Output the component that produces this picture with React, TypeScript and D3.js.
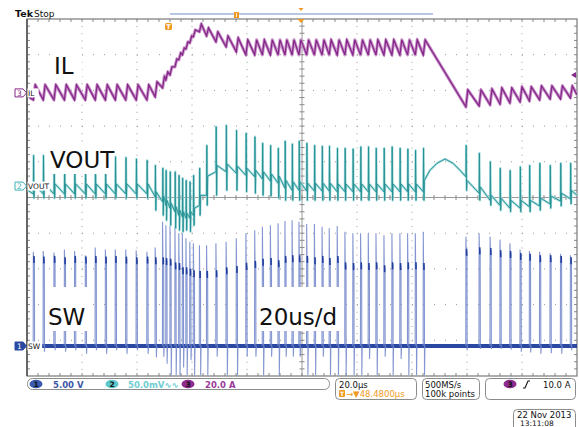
import * as d3 from 'd3';

const W = 579;
const H = 427;

// ---- values ----
// switching edges, µs from the left edge of the screen (20 µs/div, 10 div)
const pulseTimes = [
  2.3, 5.9, 9.8, 13.6, 17.3, 21.2, 24.8, 28.5, 32.1, 35.9, 39.7, 43.6,
  46.6, 49.3, 50.5, 52.0, 53.8, 55.2, 56.5, 57.8, 59.2, 60.5, 62.7, 65.3,
  68.7, 72.4, 76.1, 79.6, 82.8, 85.6, 88.5, 91.3, 93.8, 96.4, 98.9, 101.7,
  104.5, 107.3, 109.9, 112.8, 115.6, 118.5, 121.3, 124.1, 126.9, 129.8, 132.7, 135.6,
  138.4, 141.2, 144.1,
  159.6, 164.4, 168.4, 172.0, 175.6, 179.3, 182.7, 186.4, 190.2, 194.0, 197.6,
];

// ch3 IL (A): valley at each edge, peak at end of on-time
const ilTrough = [
  -3.9, -3.9, -3.9, -3.9, -3.9, -3.9, -3.9, -3.9, -3.9, -3.9, -3.9, -3.9,
  -2.2, 2.8, 7.3, 10.1, 14.6, 18.5, 21.3, 24.6, 28.0, 31.4, 34.2, 31.9,
  28.6, 25.8, 23.0, 21.3, 21.3, 21.3, 21.3, 21.3, 21.3, 21.3, 21.3, 21.3,
  21.3, 21.3, 21.3, 21.3, 21.3, 21.3, 21.3, 21.3, 21.3, 21.3, 21.3, 21.3,
  21.3, 21.3, 21.3,
  -7.8, -7.3, -6.7, -6.2, -5.6, -5.0, -4.5, -3.9, -3.4, -3.4, -2.8,
];
const ilPeak = [
  4.5, 4.5, 4.5, 4.5, 4.5, 4.5, 4.5, 4.5, 4.5, 4.5, 4.5, 4.5,
  6.2, 9.5, 11.8, 14.6, 19.0, 22.4, 25.2, 28.6, 31.9, 35.3, 38.6, 36.4,
  34.2, 31.9, 30.8, 29.7, 29.7, 29.7, 29.7, 29.7, 29.7, 29.7, 29.7, 29.7,
  29.7, 29.7, 29.7, 29.7, 29.7, 29.7, 29.7, 29.7, 29.7, 29.7, 29.7, 29.7,
  29.7, 29.7, 29.7,
  1.7, 1.7, 2.2, 2.8, 2.8, 3.4, 3.4, 3.9, 3.9, 3.9, 3.9,
];
const ilStart: [number, number] = [0.9, -2.5];
const ilEnd: [number, number] = [200, -1.1];

// ch2 VOUT (mV, AC coupled): level before edge, spike top, spike bottom, level after edge
const voutLow = [
  -11, -11, -11, -11, -11, -11, -11, -11, -11, -11, -11, -11,
  -15, -22, -27, -31, -36, -41, -43, -45, -45, -41, -27, -13,
  20, 20, 18, 15, 13, 10, 7, 4, -3, -6, -6, -7,
  -7, -7, -7, -8, -8, -8, -8, -8, -8, -8, -8, -8,
  -8, -8, -8,
  13, -10, -20, -27, -31, -31, -29, -28, -25, -21, -18,
];
const voutSpike = [
  43, 43, 43, 43, 43, 42, 42, 41, 41, 40, 38, 36,
  29, 25, 22, 20, 20, 15, 11, 8, 6, 15, 25, 57,
  83, 85, 78, 74, 69, 60, 57, 53, 63, 59, 63, 60,
  57, 56, 56, 53, 53, 52, 55, 55, 53, 53, 55, 53,
  52, 50, 53,
  57, 46, 34, 25, 22, 27, 29, 32, 29, 32, 32,
];
const voutDip = [
  -17, -17, -17, -17, -17, -17, -17, -17, -17, -17, -17, -17,
  -34, -41, -48, -55, -59, -62, -64, -62, -64, -55, -41, -27,
  -13, -6, -6, -8, -10, -13, -14, -17, -20, -20, -20, -20,
  -20, -20, -20, -20, -20, -20, -20, -20, -20, -20, -20, -20,
  -20, -20, -20,
  -6, -20, -27, -34, -36, -36, -36, -34, -31, -28, -25,
];
const voutHigh = [
  3, 3, 3, 3, 3, 3, 3, 3, 3, 3, 3, 3,
  -8, -14, -20, -24, -29, -34, -36, -38, -36, -31, -13, 14,
  29, 31, 28, 25, 22, 20, 17, 14, 8, 6, 6, 4,
  4, 4, 4, 3, 3, 3, 3, 3, 3, 3, 3, 3,
  3, 3, 8,
  8, -1, -13, -17, -20, -20, -20, -17, -14, -10, -6,
];
// hump while the converter skips pulses
const voutGapT = [146.5, 149.1, 152.0, 154.9, 157.5];
const voutGapV = [22, 32, 38, 32, 22];
const voutStart: [number, number] = [0.3, -6];
const voutEnd: [number, number] = [200, -13];

// ch1 SW (V): overshoot, flat top, undershoot
const swPeak = [
  13.2, 13.3, 13.1, 13.5, 13.3, 12.7, 13.8, 13.5, 13.5, 13.5, 13.4, 13.2,
  13.8, 17.4, 16.9, 16.8, 16.7, 15.8, 15.8, 15.1, 14.6, 14.4, 14.1, 14.1,
  14.4, 14.6, 15.1, 15.8, 16.2, 16.7, 16.9, 17.2, 17.5, 17.6, 17.4, 17.1,
  17.1, 16.7, 16.5, 16.8, 16.0, 15.8, 15.8, 15.8, 15.8, 15.5, 15.8, 15.8,
  15.8, 15.8, 16.0,
  15.3, 15.8, 15.3, 14.9, 14.4, 13.5, 13.3, 13.2, 13.0, 12.9, 12.7,
];
const swPlateau = [
  12.2, 12.1, 12.2, 12.0, 12.2, 12.1, 12.2, 12.1, 12.2, 12.1, 12.0, 12.1,
  12.0, 12.0, 11.9, 11.8, 11.3, 11.2, 10.6, 10.6, 10.4, 10.2, 10.1, 10.1,
  10.2, 10.6, 10.8, 11.2, 11.5, 11.8, 11.9, 11.6, 12.2, 12.3, 12.3, 12.2,
  12.0, 12.2, 11.9, 12.2, 11.3, 11.2, 11.3, 11.2, 11.3, 10.9, 11.3, 11.2,
  11.3, 11.3, 11.2,
  13.2, 13.4, 13.3, 13.0, 12.9, 12.6, 12.5, 12.3, 12.3, 12.2, 12.0,
];
const swUnder = [
  -0.6, -0.8, -0.6, -0.8, -0.6, -1.1, -0.6, -1.1, -0.6, -1.1, -0.6, -1.1,
  -1.6, -1.5, -2.5, -4.1, -4.1, -4.1, -3.0, -4.1, -2.0, -4.1, -4.1, -4.1,
  -1.5, -4.1, -4.1, -1.5, -1.5, -4.1, -1.5, -4.1, -1.5, -1.5, -1.5, -4.1,
  -4.1, -1.5, -4.1, -4.1, -4.1, -4.1, -4.1, -1.8, -4.1, -1.5, -4.1, -1.8,
  -4.1, -4.1, -4.1,
  -0.6, -0.4, -0.4, -0.4, -0.5, -0.8, -0.9, -1.1, -1.0, -1.1, -0.6,
];

// ---- screen geometry ----
const LEFT = 27, RIGHT = 577, TOP = 19, BOTTOM = 376;
const xs = d3.scaleLinear().domain([0, 200]).range([LEFT, RIGHT]);
const yDiv = d3.scaleLinear().domain([0, 10]).range([BOTTOM, TOP]);

// ground markers (div from bottom) and scale per div
const CH3_POS = 7.93, CH3_SCALE = 20;
const CH2_POS = 5.32, CH2_SCALE = 50;
const CH1_POS = 0.84, CH1_SCALE = 5;
const yIL = (v: number) => yDiv(CH3_POS + v / CH3_SCALE);
const yVO = (v: number) => yDiv(CH2_POS + v / CH2_SCALE);
const ySW = (v: number) => yDiv(CH1_POS + v / CH1_SCALE);

const FONT = 'DejaVu Sans, sans-serif';
const PURPLE = '#86288a';
const TEAL = '#238f92';
const BLUE = '#2a48a2';
const ORANGE = '#f09a22';

function Graticule() {
  const divW = (RIGHT - LEFT) / 10;
  const divH = (BOTTOM - TOP) / 10;
  const items: JSX.Element[] = [];
  for (let i = 1; i < 10; i++) {
    if (i === 5) continue;
    const gx = LEFT + i * divW;
    const gy = TOP + i * divH;
    items.push(<line key={'v' + i} x1={gx} x2={gx} y1={TOP} y2={BOTTOM} stroke="#9a9a9a" strokeDasharray={`1 ${divH / 5 - 1}`} />);
    items.push(<line key={'h' + i} x1={LEFT} x2={RIGHT} y1={gy} y2={gy} stroke="#9a9a9a" strokeDasharray={`1 ${divW / 5 - 1}`} />);
  }
  const cx = LEFT + 5 * divW;
  const cy = TOP + 5 * divH;
  const ticks: JSX.Element[] = [];
  for (let k = 1; k < 50; k++) {
    const tx = LEFT + (k * divW) / 5;
    const ty = TOP + (k * divH) / 5;
    ticks.push(<line key={'ct' + k} x1={tx} x2={tx} y1={cy - 2.5} y2={cy + 2.5} />);
    ticks.push(<line key={'cl' + k} x1={cx - 2.5} x2={cx + 2.5} y1={ty} y2={ty} />);
    ticks.push(<line key={'tt' + k} x1={tx} x2={tx} y1={TOP} y2={TOP + 3} />);
    ticks.push(<line key={'bt' + k} x1={tx} x2={tx} y1={BOTTOM} y2={BOTTOM - 3} />);
    ticks.push(<line key={'lt' + k} x1={LEFT} x2={LEFT + 3} y1={ty} y2={ty} />);
    ticks.push(<line key={'rt' + k} x1={RIGHT} x2={RIGHT - 3} y1={ty} y2={ty} />);
  }
  return (
    <g>
      {items}
      <line x1={cx} x2={cx} y1={TOP} y2={BOTTOM} stroke="#9a9a9a" />
      <line x1={LEFT} x2={RIGHT} y1={cy} y2={cy} stroke="#9a9a9a" />
      <g stroke="#8a8a8a">{ticks}</g>
      <rect x={LEFT} y={TOP} width={RIGHT - LEFT} height={BOTTOM - TOP} fill="none" stroke="#7a7a7a" strokeWidth={1.2} />
      <line x1={LEFT} x2={LEFT} y1={TOP} y2={BOTTOM} stroke="#555" strokeWidth={1.6} />
    </g>
  );
}

function ChannelTag({ y, n, color, filled, label }: { y: number; n: string; color: string; filled?: boolean; label: string }) {
  const pts = `15,${y - 4} 23,${y - 4} 26.5,${y} 23,${y + 4} 15,${y + 4}`;
  return (
    <g>
      <polygon points={pts} fill={filled ? color : '#fff'} stroke={color} strokeWidth={1} />
      <text x={19.5} y={y + 3} fontSize={7.5} fontFamily={FONT} textAnchor="middle" fill={filled ? '#fff' : color}>{n}</text>
      <rect x={27.5} y={y - 4.5} width={label.length * 5.6} height={9} fill="#fff" />
      <text x={28} y={y + 3} fontSize={7.5} fontFamily={FONT} fill="#111">{label}</text>
    </g>
  );
}

export default function App() {
  const ilPts: [number, number][] = [ilStart];
  pulseTimes.forEach((t, i) => {
    ilPts.push([t, ilTrough[i]]);
    ilPts.push([t + 0.7, ilPeak[i]]);
  });
  ilPts.push(ilEnd);
  const ilPath = d3.line<[number, number]>().x(d => xs(d[0])).y(d => yIL(d[1]))(ilPts) || '';

  const voPts: [number, number][] = [voutStart];
  pulseTimes.forEach((t, i) => {
    voPts.push([t, voutLow[i]]);
    voPts.push([t + 0.1, voutSpike[i]]);
    voPts.push([t + 0.25, voutDip[i]]);
    voPts.push([t + 0.4, voutHigh[i]]);
  });
  voutGapT.forEach((t, i) => voPts.push([t, voutGapV[i]]));
  voPts.push(voutEnd);
  voPts.sort((a, b) => a[0] - b[0]);
  const voPath = d3.line<[number, number]>().x(d => xs(d[0])).y(d => yVO(d[1]))(voPts) || '';

  const swLine = d3.line<[number, number]>().x(d => xs(d[0])).y(d => ySW(d[1]));
  const swPulses = pulseTimes.map((t, i) =>
    swLine([
      [t - 0.05, 0],
      [t, swPeak[i]],
      [t + 0.12, swPlateau[i]],
      [t + 0.4, swPlateau[i]],
      [t + 0.45, swUnder[i]],
      [t + 0.6, 0],
    ]) || ''
  );

  return (
    <div style={{ position: 'absolute', left: 0, top: 0 }}>
      <svg width={W} height={H} viewBox={`0 0 ${W} ${H}`} style={{ display: 'block', background: '#fff' }}>
        <defs>
          <clipPath id="scr">
            <rect x={LEFT} y={TOP} width={RIGHT - LEFT} height={BOTTOM - TOP} />
          </clipPath>
        </defs>
        <rect width={W} height={H} fill="#fff" />
        <Graticule />

        <g clipPath="url(#scr)">
          {/* CH1 SW */}
          <line x1={xs(5.5)} x2={xs(200)} y1={ySW(0)} y2={ySW(0)} stroke={BLUE} strokeWidth={4} />
          {swPulses.map((d, i) => (
            <path key={i} d={d} fill="none" stroke="#6f84c9" strokeWidth={1.1} opacity={0.85} />
          ))}
          {pulseTimes.map((t, i) => (
            <line key={'pl' + i} x1={xs(t + 0.25)} x2={xs(t + 0.25)} y1={ySW(swPlateau[i]) - 3} y2={ySW(swPlateau[i]) + 4} stroke="#213f9c" strokeWidth={1.6} />
          ))}

          {/* CH2 VOUT */}
          <path d={voPath} fill="none" stroke="#a6dcdd" strokeWidth={2.4} strokeLinejoin="round" />
          <path d={voPath} fill="none" stroke={TEAL} strokeWidth={0.9} />

          {/* CH3 IL */}
          <path d={ilPath} fill="none" stroke="#c994c9" strokeWidth={3.2} strokeLinejoin="round" />
          <path d={ilPath} fill="none" stroke={PURPLE} strokeWidth={1.3} />
        </g>

        {/* big annotations */}
        <g fontFamily={FONT} fontSize={23} fill="#111">
          <rect x={50} y={53} width={32} height={28} fill="#fff" />
          <text x={54} y={74}>IL</text>
          <rect x={47} y={146} width={67} height={28} fill="#fff" />
          <text x={50} y={168}>VOUT</text>
          <rect x={45} y={287} width={45} height={44} fill="#fff" />
          <text x={48} y={325}>SW</text>
          <rect x={257} y={287} width={86} height={44} fill="#fff" />
          <text x={259} y={325}>20us/d</text>
        </g>

        {/* channel ground markers */}
        <ChannelTag y={yIL(0)} n="3" color={PURPLE} label="IL" />
        <ChannelTag y={yVO(0)} n="2" color="#3bb3b8" label="VOUT" />
        <ChannelTag y={ySW(0)} n="1" color={BLUE} filled label="SW" />

        {/* trigger level */}
        <polygon points={`${RIGHT - 6},${yIL(10)} ${RIGHT - 1},${yIL(10) - 3} ${RIGHT - 1},${yIL(10) + 3}`} fill={PURPLE} />

        {/* header */}
        <text x={15} y={17} fontFamily={FONT} fontSize={9.5} fontWeight="bold" fill="#111">Tek</text>
        <text x={34} y={17} fontFamily={FONT} fontSize={9} fill="#111">Stop</text>
        <line x1={170} x2={433} y1={14} y2={14} stroke="#9fb3dc" strokeWidth={1.6} />
        <rect x={234} y={12} width={5} height={6} fill={ORANGE} />
        <line x1={236.5} x2={236.5} y1={13} y2={17} stroke="#fff" strokeWidth={0.8} />
        <polygon points="298.5,8 303.5,8 301,11" fill={ORANGE} />
        <polygon points="297.5,19 304.5,19 301,23" fill={ORANGE} />
        <rect x={165} y={23} width={7} height={7} rx={1.5} fill={ORANGE} />
        <text x={168.5} y={29} fontFamily={FONT} fontSize={6.5} fontWeight="bold" fill="#fff" textAnchor="middle">T</text>

        {/* status bar */}
        <g fontFamily={FONT} fontSize={8.5} fontWeight="bold">
          <rect x={27.5} y={378.5} width={302} height={11} rx={5} fill="#fff" stroke="#8c8c8c" />
          <ellipse cx={36} cy={384} rx={6.5} ry={4.3} fill="#3a5aad" />
          <text x={36} y={387} textAnchor="middle" fill="#111" fontSize={7.5}>1</text>
          <text x={53} y={387.5} fill="#3c56a6">5.00 V</text>
          <ellipse cx={112} cy={384} rx={6.5} ry={4.3} fill="#5cc7cc" />
          <text x={112} y={387} textAnchor="middle" fill="#111" fontSize={7.5}>2</text>
          <text x={128} y={387.5} fill="#6fcdd2">50.0mV∿∿</text>
          <ellipse cx={188} cy={384} rx={6.5} ry={4.3} fill="#8e2b8e" />
          <text x={188} y={387} textAnchor="middle" fill="#111" fontSize={7.5}>3</text>
          <text x={205} y={387.5} fill="#9a3a9a">20.0 A</text>

          <rect x={335.5} y={378.5} width={81} height={21} rx={4} fill="#fff" stroke="#8c8c8c" />
          <text x={339} y={387.5} fill="#111" fontWeight="normal">20.0µs</text>
          <rect x={339} y={390} width={6} height={7} rx={1} fill={ORANGE} />
          <text x={342} y={396} fontSize={6} textAnchor="middle" fill="#fff">T</text>
          <text x={346} y={396.5} fill={ORANGE} fontWeight="normal">→▼48.4800µs</text>

          <rect x={422.5} y={378.5} width={57} height={21} rx={4} fill="#fff" stroke="#8c8c8c" />
          <text x={425} y={387.5} fill="#111" fontWeight="normal">500MS/s</text>
          <text x={425} y={396.5} fill="#111" fontWeight="normal">100k points</text>

          <rect x={485.5} y={378.5} width={90} height={21} rx={4} fill="#fff" stroke="#8c8c8c" />
          <ellipse cx={510} cy={384} rx={6.5} ry={4.3} fill="#8e2b8e" />
          <text x={510} y={387} textAnchor="middle" fill="#111" fontSize={7.5}>3</text>
          <path d="M523,388 L525,388 L528,381 L530,381" fill="none" stroke="#111" strokeWidth={1.1} />
          <text x={543} y={387.5} fill="#111" fontWeight="normal">10.0 A</text>

          <rect x={513.5} y={409.5} width={62} height={22} rx={4} fill="#fff" stroke="#8c8c8c" />
          <text x={517} y={418} fill="#111" fontWeight="normal">22 Nov 2013</text>
          <text x={520} y={425.5} fill="#111" fontWeight="normal" fontSize={7.5}>13:11:08</text>
        </g>
      </svg>
    </div>
  );
}
